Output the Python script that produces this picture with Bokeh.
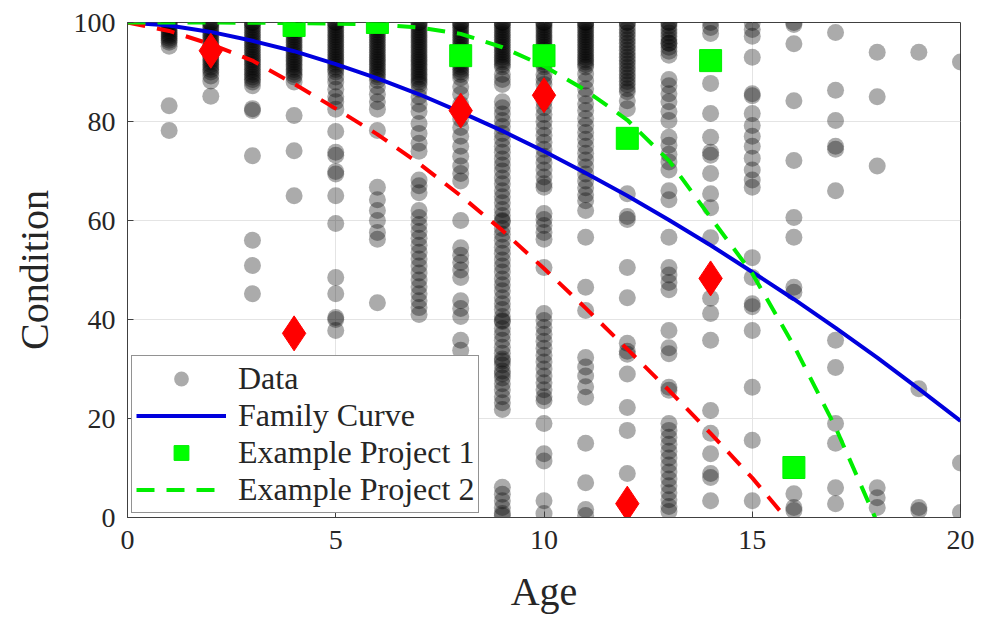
from bokeh.plotting import figure
from bokeh.models import (ColumnDataSource, Legend, LegendItem, FixedTicker, Range1d)
from bokeh.embed import file_html
from bokeh.resources import INLINE

# Observed condition ratings, grouped by age (years)
cond_age_1 = [100, 100, 99.6, 99.2, 98.8, 98.4, 98, 97.6, 97.2, 96.8, 96.4, 96, 95.2, 83.2, 78.2]
cond_age_2 = [100, 100, 99.5, 99, 98.5, 98, 97.5, 97, 96.5, 96, 95.5, 95, 94.5, 94, 93.5, 93, 92.5,
              92, 91.5, 91, 90.5, 90, 89.2, 88.2, 85.1]
cond_age_3 = [100, 100, 99.5, 99, 98.5, 98, 97.5, 97, 96.5, 96, 95.5, 95, 94.5, 94, 93.5, 93, 92.5,
              92, 91.5, 91, 90.5, 90, 89.5, 89, 88.5, 88, 87.2, 82.6, 82.2, 73.1, 56.0, 50.9, 45.2]
cond_age_4 = [100, 100, 99.5, 99, 98.5, 98, 97.5, 97, 96.5, 96, 95.5, 95, 94.5, 94, 93.5, 93, 92.5,
              92, 91.5, 91, 90.5, 90, 89.5, 89, 88, 81.2, 74.1, 65.0]
cond_age_5 = [100, 100, 99.5, 99, 98.5, 98, 97.5, 97, 96.5, 96, 95.5, 95, 94.5, 94, 93.5, 93, 92.5,
              92, 91.5, 91, 90.5, 90, 89, 88, 86.5, 85, 84, 82.5, 78.0, 73.8, 73.2, 69.9, 69.4,
              65.0, 59.4, 48.5, 45.2, 40.4, 40.0, 37.8]
cond_age_6 = [100, 100, 99.5, 99, 98.5, 98, 97.5, 97, 96.5, 96, 95.5, 95, 94.5, 94, 93.5, 93, 92.5,
              92, 91.5, 91, 90.5, 90, 89.5, 89, 88.3, 87, 85.5, 84, 82.5, 78.2, 66.7, 64.2, 62,
              60, 57.6, 56.2, 43.4]
cond_age_7 = [100, 100, 99.5, 99, 98.5, 98, 97.5, 97, 96.5, 96, 95.5, 95, 94.5, 94, 93.5, 93, 92.5,
              92, 91.5, 91, 90.5, 90, 89.5, 89, 88.5, 88, 87.5, 86.5, 85, 83.5, 82, 79.6, 77.6,
              75.6, 74, 68.2, 67, 65.6, 62, 60.6, 59.2, 57.8, 56.4, 55, 53.6, 52.2, 50.8, 49.4,
              48, 46.6, 45.2, 43.8, 42.4, 41]
cond_age_8 = [100, 100, 99.5, 99, 98.5, 98, 97.5, 97, 96.5, 96, 95.5, 95, 94.5, 94, 93.5, 93, 92.5,
              92, 91.5, 91, 90.5, 90, 89.5, 88.8, 87, 85.5, 83.5, 80.5, 78.8, 77, 75, 73, 71,
              69.5, 68, 60.0, 54.5, 53, 51.5, 50, 48.5, 43.8, 42.2, 40.6, 35.8, 33.8]
cond_age_9 = [100, 100, 99.5, 99, 98.5, 98, 97.5, 97, 96.5, 96, 95.5, 95, 94.5, 94, 93.5, 93, 92.5,
              92, 91.5, 91, 89.5, 88.5, 87.5, 84, 82.8, 81.5, 80.2, 79, 77.6, 76.4, 75, 73.8,
              72.4, 71.2, 70, 68.6, 67.4, 66, 64.8, 63.6, 62.2, 61, 60, 59.8, 58.4, 57.2, 56,
              54.6, 53.4, 52, 50.8, 49.6, 48.2, 47, 45.8, 44.4, 43.2, 42, 40.6, 39.8, 39.6,
              38.2, 37, 35.8, 34.4, 33.2, 32, 31.6, 30.8, 29.6, 29, 28.2, 27, 25.8, 24.4, 23.2,
              21.8, 6.1, 4.7, 3.4, 2, 0.8, 0.4]
cond_age_10 = [100, 100, 99.5, 99, 98.5, 98, 97.5, 97, 96.5, 96, 95.5, 95, 94.5, 94, 93.5, 93, 92.5,
               92, 91.5, 91, 89.5, 88.5, 87.5, 86, 84, 82.8, 81.4, 80, 78.6, 77.2, 75.8, 74.4,
               73, 71.6, 70.2, 68.8, 67.4, 66.7, 61.4, 60.2, 59, 57.6, 56.2, 50.5, 41.2, 39.8,
               38.4, 37, 35.6, 34.2, 32.8, 31.4, 30, 28.6, 27.2, 25.8, 24.4, 23.6, 19.0, 12.9,
               11.4, 3.4, 0.8]
cond_age_11 = [100, 100, 99.5, 99, 98.5, 98, 97.5, 97, 96.5, 96, 95.5, 95, 94.5, 94, 93.5, 93, 92.5,
               92, 91.5, 91, 89.6, 88.2, 86.6, 85.2, 83.6, 82.2, 80.6, 79.2, 77.8, 76.4, 75,
               73.6, 72.2, 70.8, 69.4, 68, 66.6, 65.2, 64, 62, 56.6, 46.5, 41.8, 32.3, 30.4,
               28.6, 26.4, 24.3, 15.0, 7.0, 1.6, 0.4]
cond_age_12 = [100, 100, 99.3, 98.6, 97.9, 97.2, 96.5, 95.8, 95.1, 94.4, 93.7, 93, 92.3, 91.6, 90.9,
               90.2, 89.5, 88.8, 88.1, 87.4, 86.6, 86, 84.2, 82.6, 65.4, 60.8, 60.2, 50.5, 44.4,
               35.2, 33.6, 33, 29.0, 22.2, 17.6, 8.9]
cond_age_13 = [100, 100, 99.3, 98.6, 97.9, 97.2, 96.5, 95.8, 95.8, 95, 94.2, 93.4, 88.5, 87.2, 85.6,
               84, 82, 80.2, 76.8, 75.2, 73.4, 71.8, 70.2, 66, 64.2, 56.6, 50.5, 49, 47.5, 46,
               37.8, 34.3, 33.1, 26.3, 25.7, 19, 17.6, 16.2, 14.8, 13.4, 12, 10.6, 9.2, 7.8,
               6.4, 5, 3.6, 2.2, 1.2]
cond_age_14 = [100, 99, 97.8, 87.7, 81.6, 76.8, 73.8, 73.2, 69.5, 65.4, 62.6, 56.5, 47.9, 44.3,
               41.2, 35.8, 21.6, 17.0, 12.9, 8.9, 8.1, 3.4]
cond_age_15 = [100, 98.6, 97.2, 93.0, 85.6, 85.2, 81.6, 79.2, 77, 75, 72.6, 70.2, 68.2, 66.7, 52.5,
               48.5, 43.2, 42.6, 37.8, 26.3, 15.6, 3.4]
cond_age_16 = [100, 99.6, 95.7, 84.2, 72.1, 60.6, 56.6, 46.5, 45.5, 4.8, 2.0, 1.4]
cond_age_17 = [98, 86.3, 80.2, 75, 74.4, 66, 35.8, 30.3, 19, 15, 6, 2.8]
cond_age_18 = [94, 85, 71, 6, 4, 2]
cond_age_19 = [94, 26, 2, 1.4]
cond_age_20 = [92, 11, 1]

observed = [cond_age_1, cond_age_2, cond_age_3, cond_age_4, cond_age_5, cond_age_6, cond_age_7,
            cond_age_8, cond_age_9, cond_age_10, cond_age_11, cond_age_12, cond_age_13,
            cond_age_14, cond_age_15, cond_age_16, cond_age_17, cond_age_18, cond_age_19,
            cond_age_20]

# Family deterioration curve
family_age = [0, 1, 2, 3, 4, 5, 6, 7, 8, 9, 10, 11, 12, 13, 14, 15, 16, 17, 18, 19, 20]
family_cond = [100, 99.4, 98.1, 96.3, 94.2, 91.6, 88.7, 85.5, 81.9, 78.1, 74.0, 69.6, 65.0, 60.1,
               55.0, 49.6, 44.1, 38.3, 32.3, 26.0, 19.5]

# Example project 1: inspection results
proj1_age = [4, 6, 8, 10, 12, 14, 16]
proj1_cond = [99.4, 100, 93.3, 93.3, 76.6, 92.3, 10.1]

# Example project 2: fitted curve
proj2_age = [0, 2, 4, 6, 7, 8, 9, 10, 11, 12, 13, 14, 15, 16, 17, 17.95]
proj2_cond = [100, 100, 99.9, 99.6, 99, 97.7, 95, 91.2, 86.3, 80.3, 72.1, 60.6, 49.3, 34.7, 18.2, 0]

# Additional project: inspections and fitted curve
alt_age = [2, 4, 8, 10, 12, 14]
alt_cond = [94.3, 37.2, 82.2, 85.3, 2.8, 48.3]
alt_fit_age = [0, 1, 2, 3, 4, 5, 6, 7, 8, 9, 10, 11, 12, 13, 14, 15, 15.8]
alt_fit_cond = [100, 98.3, 95.6, 92.3, 87.6, 82.6, 77.4, 71.5, 65.0, 58.0, 50.3, 42.3, 34.0, 25.7,
                17.0, 8.0, 0]

x_ticks = [0, 5, 10, 15, 20]
y_ticks = [0, 20, 40, 60, 80, 100]

FONT = "Liberation Serif"
TEXT = "#262626"

pts_age, pts_cond = [], []
for i, vals in enumerate(observed, start=1):
    pts_age.extend([i] * len(vals))
    pts_cond.extend(vals)
data_src = ColumnDataSource(dict(age=pts_age, cond=pts_cond))

p = figure(width=992, height=617, x_range=Range1d(0, 20), y_range=Range1d(0, 100),
           output_backend="svg", toolbar_location=None,
           min_border_left=127, min_border_right=32, min_border_top=22, min_border_bottom=100)
p.background_fill_color = "white"
p.border_fill_color = "white"
p.outline_line_color = "#404040"
p.outline_line_width = 1

for ax in (p.xaxis, p.yaxis):
    ax.major_label_text_font = FONT
    ax.major_label_text_font_size = "28px"
    ax.major_label_text_color = TEXT
    ax.axis_label_text_font = FONT
    ax.axis_label_text_font_size = "40px"
    ax.axis_label_text_font_style = "normal"
    ax.axis_label_text_color = TEXT
    ax.axis_line_color = "#404040"
    ax.major_tick_line_color = "#404040"
    ax.major_tick_in = 6
    ax.major_tick_out = 0
    ax.minor_tick_line_color = None

p.xaxis.ticker = FixedTicker(ticks=x_ticks)
p.yaxis.ticker = FixedTicker(ticks=y_ticks)
p.xaxis.axis_label = "Age"
p.yaxis.axis_label = "Condition"
p.xaxis.major_label_standoff = 13
p.yaxis.major_label_standoff = 12
p.xaxis.axis_label_standoff = 17
p.yaxis.axis_label_standoff = 14

p.xgrid.ticker = FixedTicker(ticks=x_ticks)
p.ygrid.ticker = FixedTicker(ticks=y_ticks)
p.grid.grid_line_color = "#e4e4e4"
p.grid.grid_line_width = 1

r_data = p.scatter("age", "cond", source=data_src, marker="circle", size=17,
                   fill_color="black", fill_alpha=0.33, line_color=None)
r_family = p.line(family_age, family_cond, line_color="#0000dd", line_width=4)
r_alt_fit = p.line(alt_fit_age, alt_fit_cond, line_color="#ff0000", line_width=4,
                   line_dash="18 12")
r_proj2 = p.line(proj2_age, proj2_cond, line_color="#00ee00", line_width=4, line_dash="18 12")
r_proj1 = p.scatter(proj1_age, proj1_cond, marker="square", size=22,
                    fill_color="#00ff00", line_color="#00ee00")
r_alt = p.scatter(alt_age, alt_cond, marker="diamond", size=35,
                  fill_color="#ff0000", line_color="#ff0000")

legend = Legend(items=[
    LegendItem(label="Data", renderers=[r_data]),
    LegendItem(label="Family Curve", renderers=[r_family]),
    LegendItem(label="Example Project 1", renderers=[r_proj1]),
    LegendItem(label="Example Project 2", renderers=[r_proj2]),
], location=(4, 4))
legend.label_text_font = FONT
legend.label_text_font_size = "32px"
legend.label_text_color = TEXT
legend.glyph_width = 90
legend.glyph_height = 37
legend.label_height = 37
legend.label_standoff = 12
legend.spacing = 0
legend.padding = 4
legend.margin = 0
legend.border_line_color = "#262626"
legend.border_line_width = 1
legend.background_fill_color = "white"
legend.background_fill_alpha = 1.0
p.add_layout(legend)

open("out.html", "w").write(file_html(p, INLINE))
